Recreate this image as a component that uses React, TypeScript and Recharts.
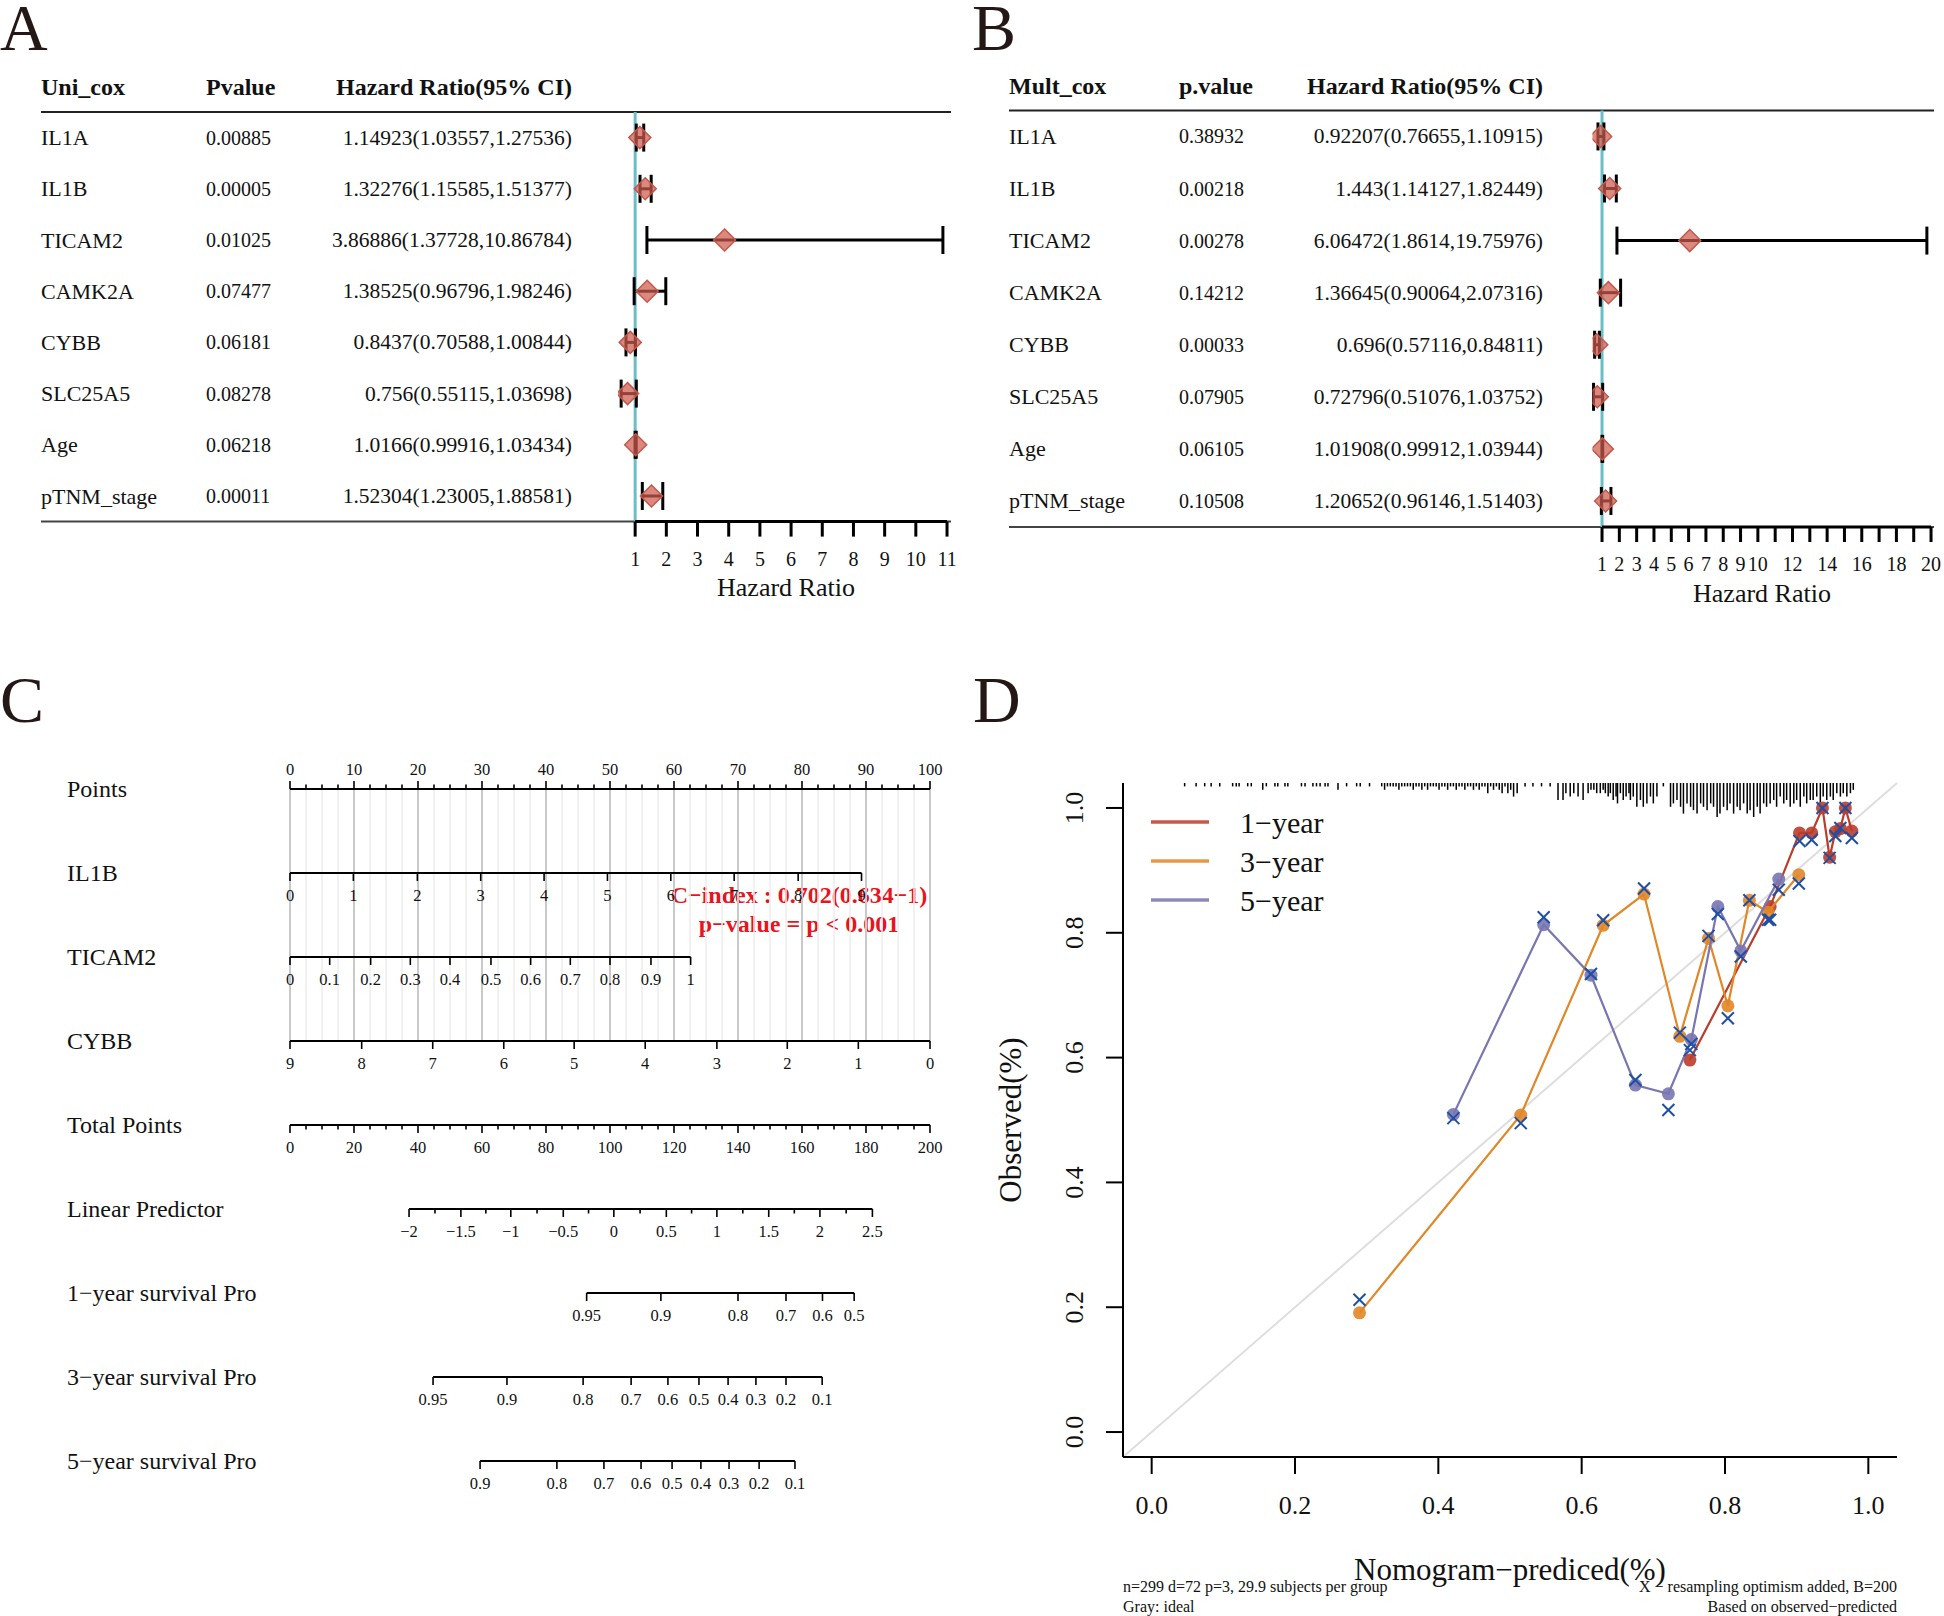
import React from "react";
import { ScatterChart, Scatter, XAxis, YAxis, ErrorBar, ReferenceLine } from "recharts";

const FONT = '"Liberation Serif", "Times New Roman", serif';
const INK = "#111";

// ---------- A: univariate cox ----------
const coxNames = ["IL1A", "IL1B", "TICAM2", "CAMK2A", "CYBB", "SLC25A5", "Age", "pTNM_stage"];
const uniP = ["0.00885", "0.00005", "0.01025", "0.07477", "0.06181", "0.08278", "0.06218", "0.00011"];
const uniHR = [1.14923, 1.32276, 3.86886, 1.38525, 0.8437, 0.756, 1.0166, 1.52304];
const uniLow = [1.03557, 1.15585, 1.37728, 0.96796, 0.70588, 0.55115, 0.99916, 1.23005];
const uniHigh = [1.27536, 1.51377, 10.86784, 1.98246, 1.00844, 1.03698, 1.03434, 1.88581];
const uniTicks = [1, 2, 3, 4, 5, 6, 7, 8, 9, 10, 11];

// ---------- B: multivariate cox ----------
const multP = ["0.38932", "0.00218", "0.00278", "0.14212", "0.00033", "0.07905", "0.06105", "0.10508"];
const multHR = [0.92207, 1.443, 6.06472, 1.36645, 0.696, 0.72796, 1.01908, 1.20652];
const multLow = [0.76655, 1.14127, 1.8614, 0.90064, 0.57116, 0.51076, 0.99912, 0.96146];
const multHigh = [1.10915, 1.82449, 19.75976, 2.07316, 0.84811, 1.03752, 1.03944, 1.51403];
const multTicks = [1, 2, 3, 4, 5, 6, 7, 8, 9, 10, 11, 12, 13, 14, 15, 16, 17, 18, 19, 20];
const multTickLabels = [1, 2, 3, 4, 5, 6, 7, 8, 9, 10, 12, 14, 16, 18, 20];

// ---------- C: nomogram ----------
const nomoRows = [
  "Points",
  "IL1B",
  "TICAM2",
  "CYBB",
  "Total Points",
  "Linear Predictor",
  "1\u2212year survival Pro",
  "3\u2212year survival Pro",
  "5\u2212year survival Pro",
];
const pointsMajor = [0, 10, 20, 30, 40, 50, 60, 70, 80, 90, 100];
const il1bLevels = ["0", "1", "2", "3", "4", "5", "6", "7", "8", "9"];
const il1bPoints = [0, 9.9, 19.9, 29.8, 39.7, 49.6, 59.5, 69.4, 79.4, 89.3];
const ticamLevels = ["0", "0.1", "0.2", "0.3", "0.4", "0.5", "0.6", "0.7", "0.8", "0.9", "1"];
const ticamPoints = [0, 6.2, 12.6, 18.8, 25, 31.4, 37.6, 43.8, 50, 56.4, 62.6];
const cybbLevels = ["9", "8", "7", "6", "5", "4", "3", "2", "1", "0"];
const cybbPoints = [0, 11.2, 22.3, 33.4, 44.4, 55.5, 66.7, 77.7, 88.8, 100];
const totalMajor = [0, 20, 40, 60, 80, 100, 120, 140, 160, 180, 200];
const lpLevels = ["\u22122", "\u22121.5", "\u22121", "\u22120.5", "0", "0.5", "1", "1.5", "2", "2.5"];
const lpPoints = [18.6, 26.7, 34.5, 42.7, 50.6, 58.8, 66.7, 74.8, 82.8, 91.0];
const surv1Levels = ["0.95", "0.9", "0.8", "0.7", "0.6", "0.5"];
const surv1Total = [92.7, 115.9, 140, 155, 166.4, 176.3];
const surv3Levels = ["0.95", "0.9", "0.8", "0.7", "0.6", "0.5", "0.4", "0.3", "0.2", "0.1"];
const surv3Total = [44.7, 67.8, 91.6, 106.6, 118.1, 127.8, 136.9, 145.6, 155.0, 166.3];
const surv5Levels = ["0.9", "0.8", "0.7", "0.6", "0.5", "0.4", "0.3", "0.2", "0.1"];
const surv5Total = [59.4, 83.4, 98.1, 109.7, 119.4, 128.4, 137.2, 146.6, 157.8];

// ---------- D: calibration ----------
const calTicks = [0, 0.2, 0.4, 0.6, 0.8, 1];
const yr1Pred = [0.751, 0.863, 0.904, 0.921, 0.936, 0.946, 0.954, 0.961, 0.968, 0.977];
const yr1Obs = [0.596, 0.842, 0.96, 0.96, 1.0, 0.921, 0.962, 0.967, 1.0, 0.963];
const yr1Cor = [0.612, 0.821, 0.947, 0.949, 1.0, 0.92, 0.955, 0.968, 1.0, 0.952];
const yr3Pred = [0.29, 0.515, 0.63, 0.687, 0.737, 0.777, 0.804, 0.834, 0.86, 0.903];
const yr3Obs = [0.191, 0.508, 0.812, 0.862, 0.634, 0.791, 0.683, 0.852, 0.833, 0.893];
const yr3Cor = [0.212, 0.495, 0.82, 0.871, 0.64, 0.795, 0.663, 0.852, 0.821, 0.879];
const yr5Pred = [0.421, 0.547, 0.613, 0.675, 0.721, 0.753, 0.79, 0.822, 0.875];
const yr5Obs = [0.509, 0.813, 0.732, 0.556, 0.542, 0.629, 0.842, 0.771, 0.886];
const yr5Cor = [0.503, 0.825, 0.734, 0.564, 0.516, 0.622, 0.83, 0.762, 0.869];
const yearNames = ["1\u2212year", "3\u2212year", "5\u2212year"];
const yearColors = ["#BC3C29", "#E18727", "#7876B1"];

// predicted-risk spikes along the top: [predicted, count]
const rugSpikes: [number, number][] = [
  [0.046, 1], [0.062, 1], [0.074, 1], [0.083, 1], [0.095, 1], [0.113, 1], [0.118, 1], [0.122, 1],
  [0.134, 1], [0.139, 1], [0.155, 2], [0.16, 1], [0.172, 1], [0.176, 1], [0.186, 1], [0.19, 1],
  [0.209, 1], [0.214, 1], [0.225, 1], [0.23, 1], [0.235, 1], [0.242, 1], [0.246, 1], [0.26, 2],
  [0.272, 1], [0.286, 1], [0.291, 1], [0.304, 1],
  [0.321, 1], [0.325, 2], [0.329, 1], [0.333, 1], [0.337, 1], [0.341, 1], [0.345, 2], [0.349, 1],
  [0.353, 1], [0.357, 1], [0.361, 1], [0.365, 2], [0.369, 1], [0.373, 1], [0.377, 2], [0.381, 1],
  [0.385, 2], [0.389, 1], [0.393, 1], [0.397, 1], [0.401, 2], [0.405, 1], [0.409, 1], [0.413, 2],
  [0.417, 1], [0.421, 1], [0.425, 2], [0.429, 1], [0.433, 1], [0.437, 2], [0.441, 1], [0.445, 1],
  [0.449, 2], [0.453, 1], [0.457, 2], [0.461, 1], [0.465, 1], [0.469, 3], [0.473, 1], [0.477, 2],
  [0.481, 1], [0.485, 2], [0.489, 3], [0.493, 1], [0.497, 3], [0.501, 2], [0.505, 4], [0.51, 3],
  [0.521, 1], [0.532, 1], [0.544, 1], [0.556, 1], [0.567, 5], [0.574, 5], [0.578, 3], [0.584, 4],
  [0.589, 3], [0.595, 4], [0.602, 5], [0.609, 3], [0.613, 2], [0.617, 2], [0.621, 3], [0.626, 3],
  [0.63, 2], [0.633, 3], [0.637, 4], [0.64, 3], [0.644, 5], [0.648, 4], [0.65, 6], [0.654, 3],
  [0.658, 5], [0.662, 4], [0.666, 3], [0.668, 5], [0.672, 4], [0.677, 7], [0.682, 5], [0.686, 7],
  [0.691, 6], [0.696, 4], [0.7, 6], [0.705, 4], [0.714, 1], [0.724, 7], [0.728, 6], [0.733, 5],
  [0.738, 7], [0.742, 9], [0.747, 6], [0.752, 7], [0.756, 8], [0.761, 9], [0.766, 6], [0.77, 7],
  [0.775, 8], [0.78, 6], [0.784, 7], [0.789, 10], [0.793, 9], [0.798, 7], [0.803, 8], [0.807, 6],
  [0.812, 9], [0.817, 7], [0.821, 8], [0.826, 6], [0.831, 9], [0.835, 8], [0.84, 10], [0.845, 7],
  [0.849, 9], [0.854, 6], [0.858, 7], [0.863, 6], [0.868, 5], [0.872, 7], [0.877, 4], [0.882, 6],
  [0.886, 5], [0.891, 7], [0.896, 6], [0.9, 5], [0.905, 7], [0.91, 4], [0.914, 6], [0.919, 5],
  [0.923, 5], [0.928, 4], [0.933, 6], [0.937, 4], [0.942, 5], [0.947, 4], [0.951, 5], [0.956, 3],
  [0.961, 4], [0.965, 3], [0.97, 4], [0.975, 3], [0.979, 2],
];

// ---------- shapes ----------
function Diamond(props: any) {
  const { cx, cy } = props;
  if (cx == null || cy == null) return null;
  const w = 11;
  return (
    <polygon
      points={`${cx - w},${cy} ${cx},${cy - w} ${cx + w},${cy} ${cx},${cy + w}`}
      fill="rgba(205,90,78,0.72)"
      stroke="#C4574B"
      strokeWidth={1.5}
    />
  );
}

function PanelLetter({ x, y, children }: { x: number; y: number; children: string }) {
  return (
    <text x={x} y={y} fontFamily={FONT} fontSize={66} fill="#231815">
      {children}
    </text>
  );
}

type ForestProps = {
  left: number;
  letter: string;
  headers: [string, string, string];
  p: string[];
  hr: number[];
  low: number[];
  high: number[];
  ticks: number[];
  tickLabels: number[];
  domain: [number, number];
  top: number;
  marginLeft: number;
  marginRight: number;
  yWidth: number;
  xHeight: number;
  col: { label: number; p: number; hrRight: number; lineEnd: number; headerY: number; axisLabelX: number; axisLabelY: number };
};

function Forest(f: ForestProps) {
  const rows = coxNames.map((name, i) => ({
    row: i + 1,
    name,
    p: f.p[i],
    hr: f.hr[i],
    text: `${f.hr[i]}(${f.low[i]},${f.high[i]})`,
    err: [f.hr[i] - f.low[i], f.high[i] - f.hr[i]],
  }));
  const height = 650;
  const bottomY = height - f.xHeight;

  const tableTick = (t: any) => {
    const r = rows[t.payload.value - 1];
    if (!r) return <g />;
    return (
      <g fontFamily={FONT} fill={INK}>
        <text x={f.col.label} y={t.y} dominantBaseline="central" fontSize={22}>{r.name}</text>
        <text x={f.col.p} y={t.y} dominantBaseline="central" fontSize={20}>{r.p}</text>
        <text x={f.col.hrRight} y={t.y} textAnchor="end" dominantBaseline="central" fontSize={21.5}>{r.text}</text>
      </g>
    );
  };

  const hrTick = (t: any) =>
    f.tickLabels.includes(t.payload.value) ? (
      <text x={t.x} y={t.y + 20} textAnchor="middle" dominantBaseline="central" fontFamily={FONT} fontSize={20} fill={INK}>
        {t.payload.value}
      </text>
    ) : (
      <g />
    );

  return (
    <div style={{ position: "absolute", left: f.left, top: 0 }}>
      <ScatterChart width={972} height={height} margin={{ top: f.top, right: f.marginRight, bottom: 0, left: f.marginLeft }}>
        <XAxis
          type="number"
          dataKey="hr"
          domain={f.domain}
          ticks={f.ticks}
          interval={0}
          allowDataOverflow
          height={f.xHeight}
          axisLine={false}
          tickLine={{ stroke: "#000", strokeWidth: 3 }}
          tickSize={15}
          tick={hrTick}
        />
        <YAxis
          type="number"
          dataKey="row"
          domain={[0.5, 8.5]}
          ticks={[1, 2, 3, 4, 5, 6, 7, 8]}
          interval={0}
          reversed
          width={f.yWidth}
          axisLine={false}
          tickLine={false}
          tick={tableTick}
        />
        <ReferenceLine x={1} stroke="#6CBEC6" strokeWidth={3} />
        <ReferenceLine
          segment={[
            { x: f.ticks[0], y: 8.5 },
            { x: f.ticks[f.ticks.length - 1], y: 8.5 },
          ]}
          stroke="#000"
          strokeWidth={3}
        />
        <Scatter data={rows} shape={Diamond} isAnimationActive={false}>
          <ErrorBar dataKey="err" direction="x" width={14} stroke="#000" strokeWidth={3} />
        </Scatter>
        <line x1={f.col.label} x2={f.col.lineEnd} y1={f.top} y2={f.top} stroke="#222" strokeWidth={2} />
        <line x1={f.col.label} x2={f.col.lineEnd} y1={bottomY} y2={bottomY} stroke="#444" strokeWidth={2} />
        <g fontFamily={FONT} fontWeight="bold" fontSize={24} fill={INK}>
          <text x={f.col.label} y={f.col.headerY} dominantBaseline="central">{f.headers[0]}</text>
          <text x={f.col.p} y={f.col.headerY} dominantBaseline="central">{f.headers[1]}</text>
          <text x={f.col.hrRight} y={f.col.headerY} textAnchor="end" dominantBaseline="central">{f.headers[2]}</text>
        </g>
        <text x={f.col.axisLabelX} y={f.col.axisLabelY} textAnchor="middle" dominantBaseline="central" fontFamily={FONT} fontSize={26} fill={INK}>
          Hazard Ratio
        </text>
        <PanelLetter x={0} y={50}>{f.letter}</PanelLetter>
      </ScatterChart>
    </div>
  );
}

// ---------- C ----------
type NomoTick = { x: number; y: number; label: string; len: number; up?: boolean };

function buildNomoTicks(): NomoTick[] {
  const out: NomoTick[] = [];
  pointsMajor.forEach((v, i) => {
    out.push({ x: v, y: 0, label: String(v), len: 8, up: true });
    if (i < pointsMajor.length - 1) {
      [2.5, 5, 7.5].forEach((d) => out.push({ x: v + d, y: 0, label: "", len: 4.5, up: true }));
    }
  });
  il1bPoints.forEach((x, i) => out.push({ x, y: 1, label: il1bLevels[i], len: 8 }));
  ticamPoints.forEach((x, i) => out.push({ x, y: 2, label: ticamLevels[i], len: 8 }));
  cybbPoints.forEach((x, i) => out.push({ x, y: 3, label: cybbLevels[i], len: 8 }));
  totalMajor.forEach((v, i) => {
    out.push({ x: v / 2, y: 4, label: String(v), len: 8 });
    if (i < totalMajor.length - 1) {
      [5, 10, 15].forEach((d) => out.push({ x: (v + d) / 2, y: 4, label: "", len: 4.5 }));
    }
  });
  lpPoints.forEach((x, i) => {
    out.push({ x, y: 5, label: lpLevels[i], len: 8 });
    if (i < lpPoints.length - 1) out.push({ x: (x + lpPoints[i + 1]) / 2, y: 5, label: "", len: 4.5 });
  });
  surv1Total.forEach((t, i) => out.push({ x: t / 2, y: 6, label: surv1Levels[i], len: 8 }));
  surv3Total.forEach((t, i) => out.push({ x: t / 2, y: 7, label: surv3Levels[i], len: 8 }));
  surv5Total.forEach((t, i) => out.push({ x: t / 2, y: 8, label: surv5Levels[i], len: 8 }));
  return out;
}

function NomoTickShape(props: any) {
  const { cx, cy, payload } = props;
  if (cx == null || cy == null) return null;
  const dir = payload.up ? -1 : 1;
  return (
    <g>
      <line x1={cx} x2={cx} y1={cy} y2={cy + dir * payload.len} stroke="#000" strokeWidth={1.6} />
      {payload.label ? (
        <text
          x={cx}
          y={cy + (payload.up ? -20 : 22)}
          textAnchor="middle"
          dominantBaseline="central"
          fontFamily={FONT}
          fontSize={16.5}
          fill={INK}
        >
          {payload.label}
        </text>
      ) : null}
    </g>
  );
}

function Nomogram() {
  const ticks = buildNomoTicks();
  const extents = nomoRows.map((_, r) => {
    const xs = ticks.filter((t) => t.y === r).map((t) => t.x);
    return [Math.min(...xs), Math.max(...xs)];
  });
  const grid: number[] = [];
  for (let v = 0; v <= 100; v += 2.5) grid.push(v);

  const rowTick = (t: any) => (
    <text x={67} y={t.y} dominantBaseline="central" fontFamily={FONT} fontSize={24} fill={INK}>
      {nomoRows[t.payload.value]}
    </text>
  );

  return (
    <div style={{ position: "absolute", left: 0, top: 650 }}>
      <ScatterChart width={972} height={966} margin={{ top: 139, right: 42, bottom: 155, left: 67 }}>
        <XAxis type="number" dataKey="x" domain={[0, 100]} hide />
        <YAxis
          type="number"
          dataKey="y"
          domain={[0, 8]}
          ticks={[0, 1, 2, 3, 4, 5, 6, 7, 8]}
          interval={0}
          reversed
          width={223}
          axisLine={false}
          tickLine={false}
          tick={rowTick}
        />
        {grid.map((v) => (
          <ReferenceLine
            key={`g${v}`}
            segment={[
              { x: v, y: 0 },
              { x: v, y: 3 },
            ]}
            stroke={v % 10 === 0 ? "#C9C9C9" : "#EDEDED"}
            strokeWidth={v % 10 === 0 ? 2 : 1.5}
          />
        ))}
        {extents.map(([a, b], r) => (
          <ReferenceLine
            key={`r${r}`}
            segment={[
              { x: a, y: r },
              { x: b, y: r },
            ]}
            stroke="#000"
            strokeWidth={2}
          />
        ))}
        <Scatter data={ticks} shape={NomoTickShape} isAnimationActive={false} />
        <g fontFamily={FONT} fontWeight="bold" fontSize={24} fill="#E8141C" textAnchor="middle">
          <text x={799} y={245} dominantBaseline="central">C{"\u2212"}index : 0.702(0.634{"\u2212"}1)</text>
          <text x={799} y={274} dominantBaseline="central">p{"\u2212"}value = p &lt; 0.001</text>
        </g>
        <PanelLetter x={0} y={72}>C</PanelLetter>
      </ScatterChart>
    </div>
  );
}

// ---------- D ----------
function Spike(props: any) {
  const { cx, cy, payload } = props;
  if (cx == null || cy == null) return null;
  return <line x1={cx} x2={cx} y1={cy} y2={cy + payload.n * 3.4} stroke="#000" strokeWidth={1.5} />;
}

const dotShape = (color: string) => (props: any) => {
  const { cx, cy } = props;
  if (cx == null || cy == null) return null;
  return <circle cx={cx} cy={cy} r={6.5} fill={color} fillOpacity={0.9} />;
};

function Cross(props: any) {
  const { cx, cy } = props;
  if (cx == null || cy == null) return null;
  const s = 6;
  return (
    <g stroke="#1F4FA3" strokeWidth={2}>
      <line x1={cx - s} y1={cy - s} x2={cx + s} y2={cy + s} />
      <line x1={cx - s} y1={cy + s} x2={cx + s} y2={cy - s} />
    </g>
  );
}

function Calibration() {
  const preds = [yr1Pred, yr3Pred, yr5Pred];
  const obs = [yr1Obs, yr3Obs, yr5Obs];
  const cors = [yr1Cor, yr3Cor, yr5Cor];
  const obsData = preds.map((p, k) => p.map((x, i) => ({ x, y: obs[k][i] })));
  const corData = preds.map((p, k) => p.map((x, i) => ({ x, y: cors[k][i] })));
  const rug = rugSpikes.map(([x, n]) => ({ x, y: 1.04, n }));

  const xTick = (t: any) => (
    <text x={t.x} y={t.y + 29} textAnchor="middle" dominantBaseline="central" fontFamily={FONT} fontSize={26} fill={INK}>
      {Number(t.payload.value).toFixed(1)}
    </text>
  );
  const yTick = (t: any) => (
    <text
      x={t.x - 29}
      y={t.y}
      transform={`rotate(-90 ${t.x - 29} ${t.y})`}
      textAnchor="middle"
      dominantBaseline="central"
      fontFamily={FONT}
      fontSize={26}
      fill={INK}
    >
      {Number(t.payload.value).toFixed(1)}
    </text>
  );

  return (
    <div style={{ position: "absolute", left: 972, top: 650 }}>
      <ScatterChart width={972} height={966} margin={{ top: 133, right: 47, bottom: 0, left: 0 }}>
        <XAxis
          type="number"
          dataKey="x"
          domain={[-0.04, 1.04]}
          ticks={calTicks}
          interval={0}
          allowDataOverflow
          height={159}
          axisLine={{ stroke: "#000", strokeWidth: 2 }}
          tickLine={{ stroke: "#000", strokeWidth: 2 }}
          tickSize={17}
          tick={xTick}
        />
        <YAxis
          type="number"
          dataKey="y"
          domain={[-0.04, 1.04]}
          ticks={calTicks}
          interval={0}
          allowDataOverflow
          width={151}
          axisLine={{ stroke: "#000", strokeWidth: 2 }}
          tickLine={{ stroke: "#000", strokeWidth: 2 }}
          tickSize={17}
          tick={yTick}
        />
        <ReferenceLine
          segment={[
            { x: -0.04, y: -0.04 },
            { x: 1.04, y: 1.04 },
          ]}
          stroke="#DEDEDE"
          strokeWidth={2}
        />
        <Scatter data={rug} shape={Spike} isAnimationActive={false} />
        {obsData.map((d, k) => (
          <Scatter
            key={`o${k}`}
            data={d}
            line={{ stroke: yearColors[k], strokeWidth: 2.2 }}
            shape={dotShape(yearColors[k])}
            isAnimationActive={false}
          />
        ))}
        {corData.map((d, k) => (
          <Scatter key={`c${k}`} data={d} shape={Cross} isAnimationActive={false} />
        ))}
        <g fontFamily={FONT} fill={INK}>
          {yearNames.map((n, k) => (
            <g key={n}>
              <line x1={179} x2={237} y1={172 + k * 39} y2={172 + k * 39} stroke={yearColors[k]} strokeOpacity={0.85} strokeWidth={3.5} />
              <text x={268} y={172 + k * 39} dominantBaseline="central" fontSize={30}>{n}</text>
            </g>
          ))}
          <text x={38} y={470} transform="rotate(-90 38 470)" textAnchor="middle" dominantBaseline="central" fontSize={31}>
            Observed(%)
          </text>
          <text x={538} y={919} textAnchor="middle" dominantBaseline="central" fontSize={31}>
            Nomogram{"\u2212"}prediced(%)
          </text>
          <g fontSize={16}>
            <text x={151} y={936} dominantBaseline="central">n=299 d=72 p=3, 29.9 subjects per group</text>
            <text x={151} y={956} dominantBaseline="central">Gray: ideal</text>
            <text x={925} y={936} textAnchor="end" dominantBaseline="central">X {"\u2212"} resampling optimism added, B=200</text>
            <text x={925} y={956} textAnchor="end" dominantBaseline="central">Based on observed{"\u2212"}predicted</text>
          </g>
        </g>
        <PanelLetter x={1} y={72}>D</PanelLetter>
      </ScatterChart>
    </div>
  );
}

export default function App() {
  return (
    <div style={{ position: "absolute", left: 0, top: 0, width: 1944, height: 1616, background: "#fff", overflow: "hidden" }}>
      <Forest
        left={0}
        letter="A"
        headers={["Uni_cox", "Pvalue", "Hazard Ratio(95% CI)"]}
        p={uniP}
        hr={uniHR}
        low={uniLow}
        high={uniHigh}
        ticks={uniTicks}
        tickLabels={uniTicks}
        domain={[0.45, 11.15]}
        top={112}
        marginLeft={41}
        marginRight={20.3}
        yWidth={577}
        xHeight={128.4}
        col={{ label: 41, p: 206, hrRight: 572, lineEnd: 951, headerY: 87, axisLabelX: 786, axisLabelY: 587 }}
      />
      <Forest
        left={972}
        letter="B"
        headers={["Mult_cox", "p.value", "Hazard Ratio(95% CI)"]}
        p={multP}
        hr={multHR}
        low={multLow}
        high={multHigh}
        ticks={multTicks}
        tickLabels={multTickLabels}
        domain={[0.45, 20.2]}
        top={110.4}
        marginLeft={37}
        marginRight={9.5}
        yWidth={583.5}
        xHeight={123}
        col={{ label: 37, p: 207, hrRight: 571, lineEnd: 962, headerY: 86, axisLabelX: 790, axisLabelY: 593 }}
      />
      <Nomogram />
      <Calibration />
    </div>
  );
}
